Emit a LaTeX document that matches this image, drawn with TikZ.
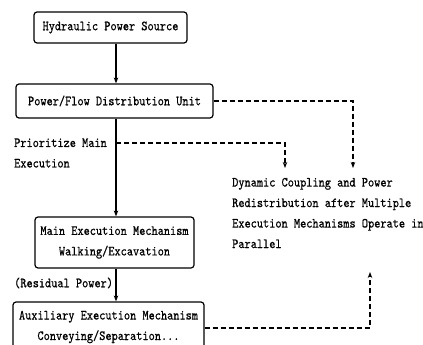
\documentclass[tikz,border=0pt]{standalone}
\usepackage{fontspec}
\setmonofont{lmmono10-regular.otf}[FakeStretch=0.84,FakeBold=0.6]
\usetikzlibrary{arrows.meta}
\begin{document}
\begin{tikzpicture}[x=1pt,y=-1pt,
  every node/.style={font=\ttfamily\fontsize{14}{20.5}\selectfont, inner sep=0pt},
  box/.style={draw, line width=1.2pt, rounded corners=3pt, minimum width=#1, align=center},
  arr/.style={line width=1.1pt, -{Stealth[length=6pt,width=4.5pt]}},
  darr/.style={line width=1.1pt, dash pattern=on 5pt off 3pt, -{Stealth[length=6pt,width=4.5pt]}},
  lab/.style={align=left}]
\useasboundingbox (0,0) rectangle (423,345);
\node[box=153pt, minimum height=31pt] (src) at (110.5,27.5) {Hydraulic Power Source};
\node[box=197pt, minimum height=34pt] (dist) at (114.5,101) {Power/Flow Distribution Unit};
\node[box=159pt, minimum height=51pt] (main) at (114.5,242.5) {Main Execution Mechanism\\Walking/Excavation};
\node[box=191pt, minimum height=50pt] (aux) at (108.5,327) {Auxiliary Execution Mechanism\\Conveying/Separation...};
\node[lab, anchor=west] (prio) at (14,153) {Prioritize Main\\Execution};
\node[lab, anchor=west] (resid) at (14,283) {(Residual Power)};
\node[lab, anchor=west] (dyn) at (232,213) {Dynamic Coupling and Power\\Redistribution after Multiple\\Execution Mechanisms Operate in\\Parallel};
\coordinate (mx) at (116,0);
\coordinate (tap) at (116,143);
\coordinate (t1) at (285,168);
\coordinate (t2) at (353,168);
\coordinate (t3) at (370,272);
\draw[arr] (src.south -| mx) -- (dist.north -| mx);
\draw[arr] (dist.south -| mx) -- (main.north -| mx);
\draw[arr] (main.south -| mx) -- (aux.north -| mx);
\draw[darr] (tap) -| (t1);
\draw[darr] (dist.east) -| (t2);
\draw[darr] (aux.east |- 0,328) -| (t3);
\end{tikzpicture}
\end{document}
